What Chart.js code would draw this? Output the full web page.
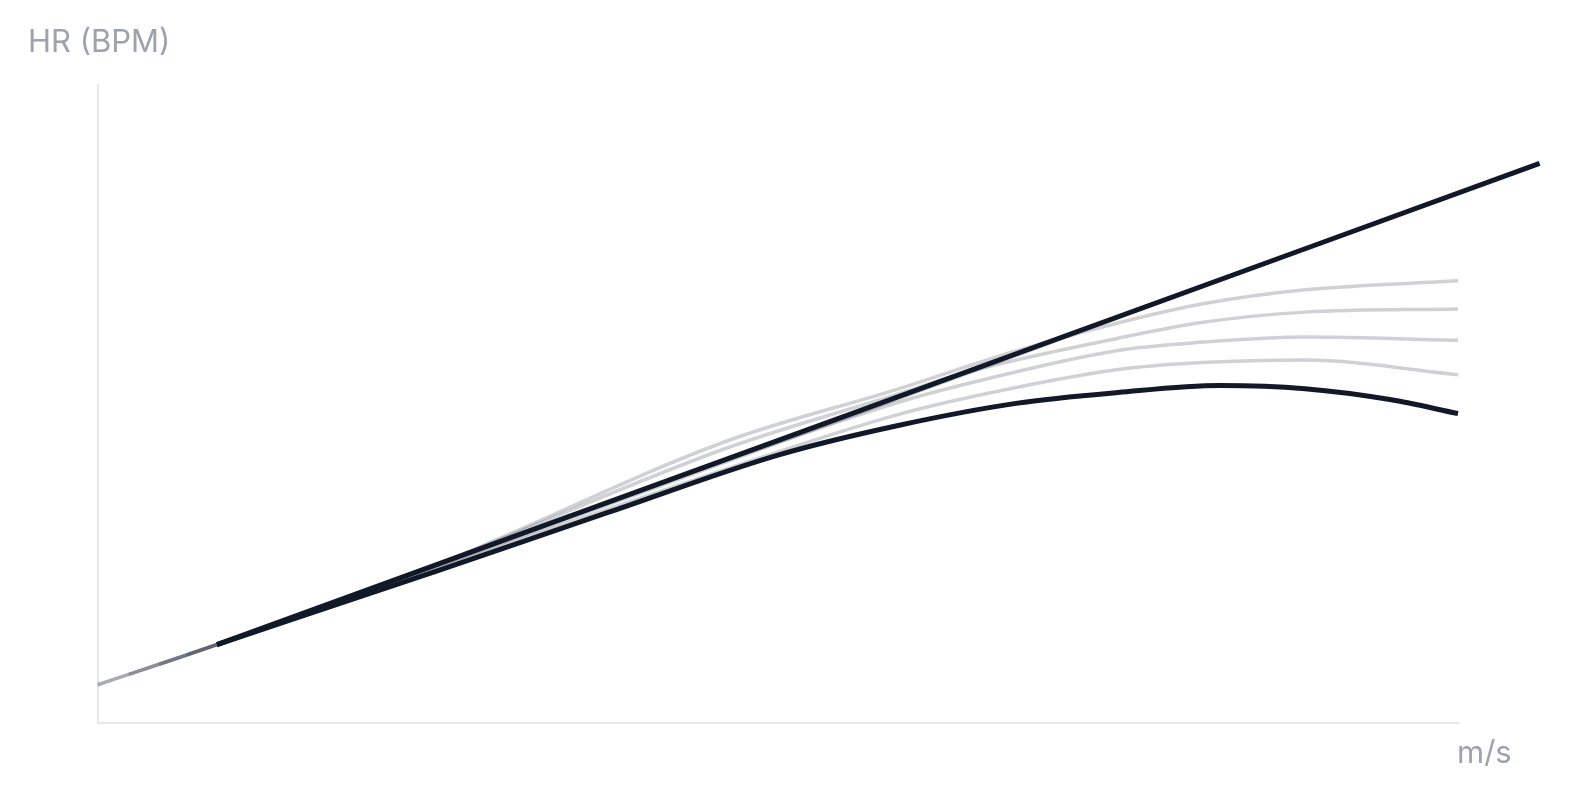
<!DOCTYPE html>
<html>
<head>
<meta charset="utf-8">
<script src="https://cdn.jsdelivr.net/npm/chart.js@4.4.1/dist/chart.umd.min.js"></script>
<style>
  html, body { margin: 0; padding: 0; background: #fff; }
  #wrap { position: relative; width: 1571px; height: 800px; }
  .lbl { position: absolute; font-family: Inter, "Noto Sans", sans-serif; font-size: 31px; line-height: 31px; color: #9ca3af; white-space: nowrap; }
</style>
</head>
<body>
<div id="wrap">
  <canvas id="hrChart" width="1571" height="800"></canvas>
  <div class="lbl" style="left:28px; top:25px;">HR (BPM)</div>
  <div class="lbl" style="left:1457px; top:736px;">m/s</div>
</div>
<script>
// speed (m/s) and heart rate (bpm)
const fitSpeed = [2.35, 4.3, 6.24];
const fitHr = [112.3, 150.1, 187.7];

const curveSpeed = [2.35, 3.0, 3.5, 4.0, 4.35, 4.7, 5.0, 5.3, 5.55, 5.8, 6.0];
const curveHr = [112.3, 123.9, 133.0, 142.0, 146.6, 150.1, 151.8, 152.9, 152.4, 150.7, 148.5];

// older runs, drawn faint
const run0Speed = [2.0, 2.35, 6.0];
const run0Hr = [106.0, 112.3, 183.0];
const run1Speed = [2.0, 2.35, 3.0, 3.85, 4.35, 4.7, 5.0, 5.25, 5.55, 6.0];
const run1Hr = [106.0, 112.3, 124.9, 144.2, 152.3, 158.3, 162.7, 165.7, 167.9, 169.3];
const run2Speed = [2.09, 2.35, 3.0, 3.85, 4.35, 4.55, 5.0, 5.25, 5.55, 6.0];
const run2Hr = [107.6, 112.3, 124.9, 143.1, 151.5, 154.9, 160.3, 162.8, 164.4, 164.9];
const run3Speed = [2.18, 2.35, 3.5, 4.35, 4.55, 5.0, 5.25, 5.55, 6.0];
const run3Hr = [109.2, 112.3, 134.6, 150.2, 153.1, 158.4, 159.7, 160.5, 160.0];
const run4Speed = [2.26, 2.35, 4.0, 4.35, 4.55, 5.0, 5.25, 5.55, 6.0];
const run4Hr = [110.7, 112.3, 142.5, 148.3, 150.9, 155.4, 156.5, 156.9, 154.6];

const dark = '#111827';
const faint = 'rgba(17, 24, 39, 0.2)';

function pts(xs, ys) {
  return xs.map((x, i) => ({ x: x, y: ys[i] }));
}

function line(xs, ys, color, width) {
  return {
    data: pts(xs, ys),
    borderColor: color,
    borderWidth: width,
    pointRadius: 0,
    cubicInterpolationMode: 'monotone',
    clip: false,
    fill: false
  };
}

const axisBorder = { display: true, color: '#e5e7eb', width: 2 };

new Chart(document.getElementById('hrChart'), {
  type: 'line',
  data: {
    datasets: [
      line(fitSpeed, fitHr, dark, 5),
      line(curveSpeed, curveHr, dark, 5),
      line(run0Speed, run0Hr, faint, 3.5),
      line(run1Speed, run1Hr, faint, 3.5),
      line(run2Speed, run2Hr, faint, 3.5),
      line(run3Speed, run3Hr, faint, 3.5),
      line(run4Speed, run4Hr, faint, 3.5)
    ]
  },
  options: {
    responsive: false,
    animation: false,
    layout: { padding: { left: 98, top: 85, right: 113, bottom: 77 } },
    plugins: { legend: { display: false }, tooltip: { enabled: false } },
    scales: {
      x: {
        type: 'linear',
        min: 2,
        max: 6,
        grid: { display: false, drawTicks: false },
        ticks: { display: false },
        border: axisBorder
      },
      y: {
        min: 100,
        max: 200,
        grid: { display: false, drawTicks: false },
        ticks: { display: false },
        border: axisBorder
      }
    }
  }
});
</script>
</body>
</html>
